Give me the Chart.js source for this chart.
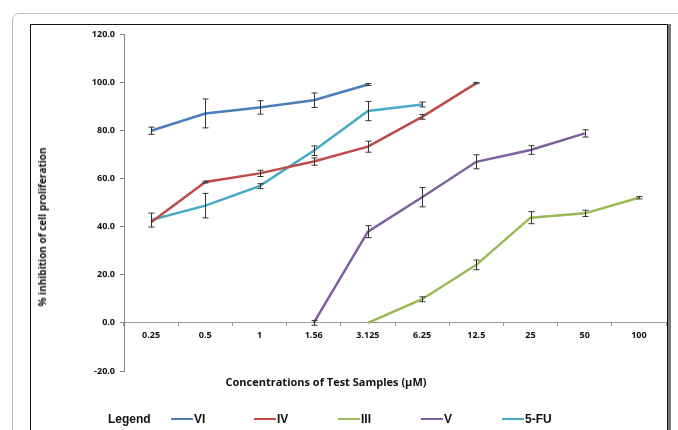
<!DOCTYPE html>
<html>
<head>
<meta charset="utf-8">
<script src="https://cdn.jsdelivr.net/npm/chart.js@4.4.0/dist/chart.umd.min.js"></script>
<style>
  html, body { margin:0; padding:0; background:#fff; }
  body { width:678px; height:430px; position:relative; overflow:hidden; font-family:'Open Sans', sans-serif; }
  #outer { position:absolute; left:12px; top:13px; width:700px; height:460px; border:1px solid #bdbdbd; border-radius:7px; }
  #inner { position:absolute; left:30px; top:24px; width:636px; height:440px; border:1px solid #111; box-shadow:3px 0 0 #777; }
  #wrap { position:absolute; left:0; top:0; width:678px; height:430px; }
  #ytitle { position:absolute; left:42px; top:227px; transform:translate(-50%,-50%) rotate(-90deg); white-space:nowrap; font:bold 10px 'Open Sans', sans-serif; color:#111; }
  #xtitle { position:absolute; left:326px; top:381px; transform:translate(-50%,-50%); white-space:nowrap; font:bold 11px 'Open Sans', sans-serif; color:#111; }
  .lg { position:absolute; top:419px; transform:translateY(-50%); font:bold 12px 'Liberation Sans', Arial, sans-serif; color:#111; white-space:nowrap; }
  .sw { position:absolute; top:419px; height:2px; margin-top:-1px; }
</style>
</head>
<body>
<div id="outer"></div>
<div id="inner"></div>
<div id="wrap"><canvas id="c" width="678" height="430"></canvas></div>
<div id="ytitle">% inhibition of cell proliferation</div>
<div id="xtitle">Concentrations of Test Samples (µM)</div>
<div id="legend"></div>
<script>
const categories = ['0.25','0.5','1','1.56','3.125','6.25','12.5','25','50','100'];
const yTicks = [-20, 0, 20, 40, 60, 80, 100, 120];

const seriesNames = ['VI','IV','III','V','5-FU'];
const seriesColors = ['#4A7EBB','#BE4B48','#98B954','#7D60A0','#46AAC5'];

const valuesVI   = [79.8, 87.0, 89.5, 92.5, 99.0, null, null, null, null, null];
const errorsVI   = [1.5, 6.0, 2.8, 3.0, 0.4, null, null, null, null, null];
const valuesIV   = [41.8, 58.5, 62.1, 67.0, 73.2, 85.6, 99.6, null, null, null];
const errorsIV   = [0, 0.4, 1.3, 1.5, 2.3, 1.0, 0.3, null, null, null];
const valuesIII  = [null, null, null, null, 0, 9.8, 24.1, 43.7, 45.5, 52.0];
const errorsIII  = [null, null, null, null, 0, 1.0, 2.0, 2.5, 1.3, 0.5];
const valuesV    = [null, null, null, 0, 37.9, 52.2, 66.9, 71.8, 78.7, null];
const errorsV    = [null, null, null, 1.0, 2.5, 4.0, 2.9, 1.8, 1.5, null];
const values5FU  = [42.7, 48.7, 56.8, 71.5, 88.0, 90.7, null, null, null, null];
const errors5FU  = [2.9, 5.1, 1.0, 2.0, 4.0, 1.0, null, null, null, null];

const allValues = [valuesVI, valuesIV, valuesIII, valuesV, values5FU];
const allErrors = [errorsVI, errorsIV, errorsIII, errorsV, errors5FU];

// HTML legend
(function(){
  const lg = document.getElementById('legend');
  const head = document.createElement('div');
  head.className = 'lg'; head.style.left = '108px'; head.textContent = 'Legend';
  lg.appendChild(head);
  const swX = [171, 254, 338, 421, 502];
  seriesNames.forEach((n, i) => {
    const s = document.createElement('div');
    s.className = 'sw'; s.style.left = swX[i] + 'px'; s.style.width = '22px'; s.style.background = seriesColors[i];
    lg.appendChild(s);
    const t = document.createElement('div');
    t.className = 'lg'; t.style.left = (swX[i] + 23) + 'px'; t.textContent = n;
    lg.appendChild(t);
  });
})();

const errorBars = {
  id: 'errorBars',
  afterDatasetsDraw(chart) {
    const ctx = chart.ctx;
    const y = chart.scales.y;
    ctx.save();
    ctx.strokeStyle = '#333';
    ctx.lineWidth = 1;
    chart.data.datasets.forEach((ds, di) => {
      const meta = chart.getDatasetMeta(di);
      const errs = allErrors[di];
      ds.data.forEach((v, i) => {
        if (v === null || errs[i] === null || errs[i] === undefined || errs[i] <= 0) return;
        const x = Math.round(meta.data[i].x) + 0.5;
        const yt = y.getPixelForValue(v + errs[i]);
        const yb = y.getPixelForValue(v - errs[i]);
        ctx.beginPath();
        ctx.moveTo(x, yt); ctx.lineTo(x, yb);
        ctx.moveTo(x - 3, yt); ctx.lineTo(x + 3, yt);
        ctx.moveTo(x - 3, yb); ctx.lineTo(x + 3, yb);
        ctx.stroke();
      });
    });
    ctx.restore();
  }
};

Chart.defaults.font.family = "'Open Sans', sans-serif";
Chart.defaults.color = '#111';

new Chart(document.getElementById('c'), {
  type: 'line',
  data: {
    labels: categories,
    datasets: seriesNames.map((n, i) => ({
      label: n,
      data: allValues[i],
      borderColor: seriesColors[i],
      backgroundColor: seriesColors[i],
      borderWidth: 2.5,
      pointRadius: 0,
      tension: 0,
      spanGaps: false
    }))
  },
  options: {
    responsive: false,
    animation: false,
    layout: { padding: { left: 30, top: 34, right: 12, bottom: 59 } },
    plugins: { legend: { display: false }, tooltip: { enabled: false } },
    scales: {
      x: {
        type: 'category',
        axis: 'x',
        position: { y: 0 },
        offset: true,
        grid: { offset: true, drawOnChartArea: false, drawTicks: true, tickLength: 3, color: '#999' },
        border: { color: '#999', width: 1 },
        ticks: { font: { size: 9, weight: 'bold' }, color: '#111', padding: 4, maxRotation: 0, autoSkip: false }
      },
      y: {
        min: -20, max: 120,
        afterBuildTicks(scale) { scale.ticks = yTicks.map(v => ({ value: v })); },
        afterFit(scale) { scale.width = 94; },
        grid: { drawOnChartArea: false, drawTicks: true, tickLength: 4, color: '#888' },
        border: { color: '#888', width: 1 },
        ticks: { font: { size: 9, weight: 'bold' }, color: '#111', padding: 5, callback: v => Number(v).toFixed(1) }
      }
    }
  },
  plugins: [errorBars]
});
</script>
</body>
</html>
